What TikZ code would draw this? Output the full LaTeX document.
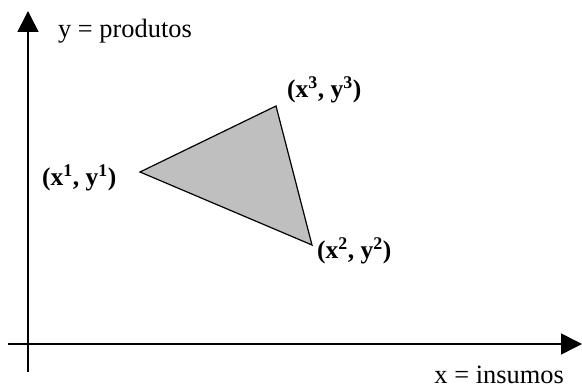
\documentclass[tikz,border=0pt]{standalone}
\usepackage{fontspec}
\setmainfont{Liberation Serif}
\usetikzlibrary{arrows.meta}
\begin{document}
\begin{tikzpicture}[x=1pt,y=-1pt,
  axis/.style={line width=1.6pt,-{Triangle[length=21pt,width=21pt]}},
  lbl/.style={inner sep=0pt,font=\fontsize{26.4}{30}\selectfont},
  vlbl/.style={inner sep=0pt,font=\fontsize{25.5}{30}\selectfont\bfseries}]
\useasboundingbox (0,0) rectangle (582,390);
\coordinate (ybot) at (28,372);
\coordinate (ytop) at (28,11);
\coordinate (xl) at (8,344);
\coordinate (xr) at (582,344);
\draw[axis] (ybot) -- (ytop);
\draw[axis] (xl) -- (xr);
\coordinate (p1) at (140,172);
\coordinate (p2) at (312,245);
\coordinate (p3) at (276,106);
\filldraw[fill=black!25,draw=black,line width=1.2pt] (p1) -- (p3) -- (p2) -- cycle;
\node[lbl,anchor=base west] (ylab) at (58,38) {y = produtos};
\node[lbl,anchor=base east] (xlab) at (564,384) {x = insumos};
\node[vlbl,anchor=base west] (l1) at (42,186) {(x\textsuperscript{1}, y\textsuperscript{1})};
\node[vlbl,anchor=base west] (l3) at (287,98) {(x\textsuperscript{3}, y\textsuperscript{3})};
\node[vlbl,anchor=base west] (l2) at (317,259) {(x\textsuperscript{2}, y\textsuperscript{2})};
\end{tikzpicture}
\end{document}
